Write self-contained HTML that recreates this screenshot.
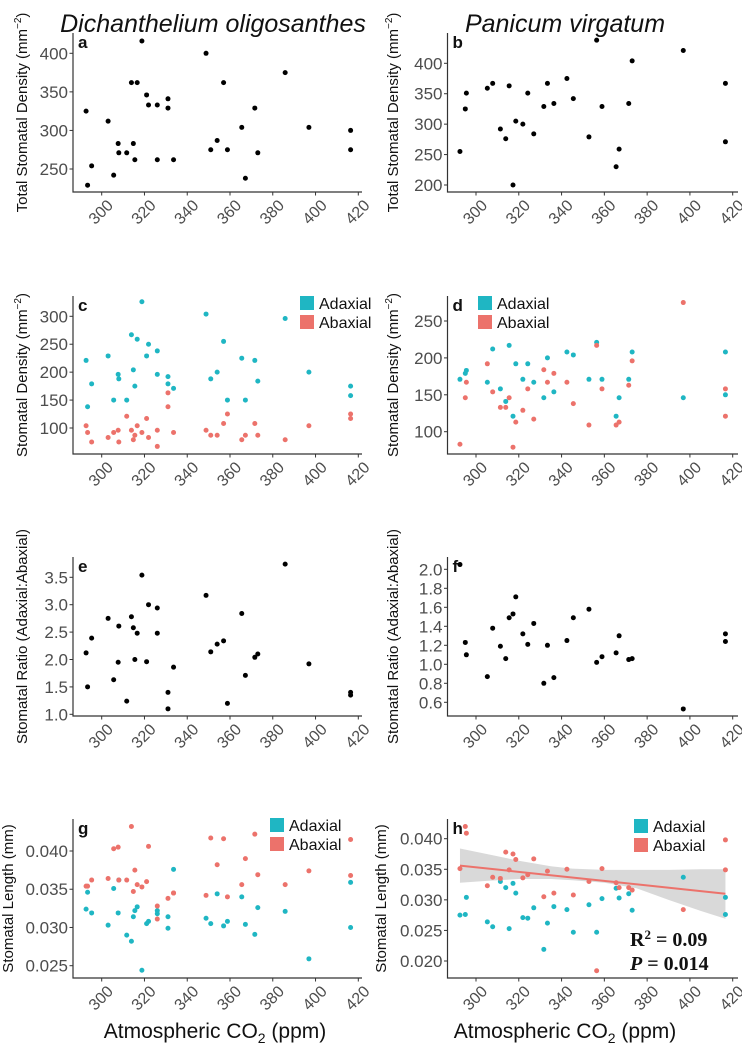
<!DOCTYPE html>
<html><head><meta charset="utf-8"><style>
html,body{margin:0;padding:0;background:#fff;}
svg{display:block;font-family:"Liberation Sans",sans-serif;}
</style></head><body>
<svg id="fig" width="742" height="1046" viewBox="0 0 742 1046" xmlns="http://www.w3.org/2000/svg">
<text x="213" y="32" font-size="25" font-style="italic" text-anchor="middle" fill="#111">Dichanthelium oligosanthes</text>
<text x="565" y="32" font-size="25" font-style="italic" text-anchor="middle" fill="#111">Panicum virgatum</text>
<text x="215" y="1038" font-size="21" text-anchor="middle" fill="#111">Atmospheric CO<tspan font-size="14" dy="5">2</tspan><tspan dy="-5"> (ppm)</tspan></text>
<text x="565" y="1038" font-size="21" text-anchor="middle" fill="#111">Atmospheric CO<tspan font-size="14" dy="5">2</tspan><tspan dy="-5"> (ppm)</tspan></text>
</svg>
<script>
// ---- data ----
const xTicks = [300,320,340,360,380,400,420];
const aX = [292.7,293.4,295.3,303,305.6,307.7,308,311.7,313.9,314.8,315.5,316.6,318.8,321,321.9,326,326,331,331,333.6,348.8,351,354,357,358.8,365.5,367.2,371.6,373,385.8,396.9,416.4,416.4];
const aY = [325,229,254,312,242,283,271,271,362,283,262,362,416,346,333,333,262,341,329,262,400,275,287,362,275,304,238,329,271,375,304,300,275];
const bX = [292.5,295,295.5,305.3,307.8,311.4,313.9,315.5,317.3,318.6,321.9,324.2,327,331.7,333.4,336.4,342.5,345.5,352.8,356.4,358.9,365.5,366.9,371.4,373,396.9,416.6,416.6];
const bY = [255,325,351,359,367,292,276,363,200,305,300,351,284,329,367,334,375,342,279,438,329,230,259,334,404,421,367,271];
const cX = aX;
const cAd = [221,138,179,229,150,196,188,150,267,204,175,259,326,229,250,238,196,192,179,171,304,188,200,255,150,225,150,221,184,296,200,175,158];
const cAb = [104,92,75,83,92,96,75,121,96,79,87,104,92,117,83,96,67,163,138,92,96,87,87,108,125,79,87,108,87,79,104,125,117];
const dX = bX;
const dAd = [171,179,183,167,212,158,141,217,121,192,171,192,167,146,200,154,208,204,171,221,171,121,146,171,208,146,208,150];
const dAb = [83,146,167,192,154,133,133,146,79,113,129,158,117,184,167,179,167,138,109,217,158,109,113,163,196,275,158,121];
const eX = aX;
const eY = [2.12,1.50,2.39,2.75,1.63,1.95,2.61,1.24,2.78,2.58,2.00,2.48,3.54,1.96,3.00,2.94,2.48,1.40,1.10,1.86,3.17,2.14,2.28,2.34,1.20,2.84,1.71,2.04,2.10,3.74,1.92,1.40,1.35];
const fX = bX;
const fY = [2.05,1.23,1.10,0.87,1.38,1.19,1.06,1.49,1.53,1.71,1.32,1.21,1.43,0.80,1.20,0.86,1.25,1.49,1.58,1.02,1.08,1.12,1.30,1.05,1.06,0.53,1.32,1.24];
const gX = aX;
const gAd = [0.0324,0.0346,0.0319,0.0303,0.0351,0.0319,0.0362,0.0290,0.0282,0.0314,0.0322,0.0327,0.0244,0.0305,0.0308,0.0322,0.0318,0.0314,0.0299,0.0376,0.0312,0.0305,0.0344,0.0302,0.0308,0.0340,0.0304,0.0291,0.0326,0.0321,0.0259,0.0359,0.0300];
const gAb = [0.0354,0.0354,0.0362,0.0364,0.0403,0.0405,0.0362,0.0362,0.0432,0.0347,0.0375,0.0356,0.0353,0.0360,0.0406,0.0328,0.0311,0.0338,0.0345,0.0345,0.0342,0.0417,0.0382,0.0416,0.0340,0.0356,0.0390,0.0422,0.0369,0.0356,0.0374,0.0415,0.0368];
const gAbX = [292.7,293.4,295.3,303,305.6,307.7,308,311.7,313.9,314.8,315.5,316.6,318.8,321,321.9,326,326,331,333.6,333.6,348.8,351,354,357,358.8,365.5,367.2,371.6,373,385.8,396.9,416.4,416.4];
const hX = bX;
const hAd = [0.0275,0.0276,0.0304,0.0264,0.0256,0.0330,0.0320,0.0253,0.0327,0.0311,0.0271,0.0270,0.0287,0.0219,0.0262,0.0289,0.0284,0.0247,0.0292,0.0247,0.0302,0.0319,0.0303,0.0310,0.0283,0.0337,0.0304,0.0276];
const hAb = [0.0351,0.0420,0.0409,0.0323,0.0337,0.0335,0.0378,0.0349,0.0375,0.0366,0.0336,0.0341,0.0367,0.0305,0.0347,0.0311,0.0350,0.0308,0.0330,0.0184,0.0351,0.0328,0.0320,0.0320,0.0316,0.0284,0.0398,0.0349];
const fitX = [292.5,416.6];
const fitY = [0.0356,0.0310];
const bandX = [292.5,305,320,335,345,360,375,390,405,416.6];
const bandLo = [0.0328,0.0331,0.0334,0.0334,0.0332,0.0328,0.0319,0.0300,0.0282,0.0269];
const bandHi = [0.0384,0.0375,0.0364,0.0355,0.0351,0.0349,0.0349,0.0349,0.0350,0.0350];
const aTicks=[250,300,350,400], bTicks=[200,250,300,350,400], cTicks=[100,150,200,250,300], dTicks=[100,150,200,250];
const eTicks=[1.0,1.5,2.0,2.5,3.0,3.5], fTicks=[0.6,0.8,1.0,1.2,1.4,1.6,1.8,2.0];
const gTicks=[0.025,0.030,0.035,0.040], hTicks=[0.020,0.025,0.030,0.035,0.040];

const NS="http://www.w3.org/2000/svg";
const svg=document.getElementById('fig');
const TEAL="#1fb6c3", RED="#ec726b";
function mk(tag,attrs,parent){const e=document.createElementNS(NS,tag);for(const k in attrs)e.setAttribute(k,attrs[k]);(parent||svg).appendChild(e);return e;}
function lin(d0,d1,r0,r1){return v=>r0+(v-d0)/(d1-d0)*(r1-r0);}

function panel(o){
  const g=mk('g',{});
  
  
  const xs=lin(300,420,o.x300,o.x420), ys=lin(o.yv0,o.yv1,o.yp0,o.yp1);
  const ax=mk('path',{d:`M${o.left},${o.top}V${o.bottom}H${o.right}`,fill:'none',stroke:'#333','stroke-width':1.2},g);
  
  
  xTicks.forEach(t=>{
    const x=xs(t);
    mk('line',{x1:x,x2:x,y1:o.bottom,y2:o.bottom+3.5,stroke:'#333','stroke-width':1},g);
    const tx=mk('text',{x:x+5,y:o.bottom+7,'font-size':16,fill:'#4d4d4d','text-anchor':'end',transform:`rotate(-45 ${x+5} ${o.bottom+7})`,'dominant-baseline':'hanging'},g);
    tx.textContent=t;
    
    
  });
  o.yTicks.forEach(t=>{
    const y=ys(t);
    mk('line',{x1:o.left-3.5,x2:o.left,y1:y,y2:y,stroke:'#333','stroke-width':1},g);
    const tx=mk('text',{x:o.left-5,y:y+6,'font-size':17,fill:'#4d4d4d','text-anchor':'end'},g);
    tx.textContent=o.fmt?o.fmt(t):t;
    
    
  });
  const yt=mk('text',{x:0,y:0,'font-size':o.ytSize||15,fill:'#111','text-anchor':'middle',transform:`translate(${o.ytX},${(o.top+o.bottom)/2}) rotate(-90)`},g);
  yt.innerHTML=o.ytitle;
  
  
  const lb=mk('text',{x:o.left+5,y:o.top+15,'font-size':17,'font-weight':'bold',fill:'#111'},g);
  lb.textContent=o.id;
  
  
  if(o.band){
    let d='';
    bandX.forEach((v,i)=>{d+=(i?'L':'M')+xs(v)+','+ys(bandHi[i]);});
    for(let i=bandX.length-1;i>=0;i--)d+='L'+xs(bandX[i])+','+ys(bandLo[i]);
    const b=mk('path',{d:d+'Z',fill:'#d9d9d9',stroke:'none'},g);
    
    
  }
  o.series.forEach(s=>{
    s.y.forEach((v,i)=>{
      const c=mk('circle',{cx:xs(s.x[i]),cy:ys(v),r:2.5,fill:s.color},g);
      
      
    });
  });
  if(o.band){
    const l=mk('line',{x1:xs(fitX[0]),y1:ys(fitY[0]),x2:xs(fitX[1]),y2:ys(fitY[1]),stroke:RED,'stroke-width':2},g);
    
    
  }
  if(o.legend){
    [['Adaxial',TEAL],['Abaxial',RED]].forEach((e,i)=>{
      const lg=mk('g',{},g);
      
      
      mk('rect',{x:o.legend[0],y:o.legend[1]+i*19,width:14,height:14,fill:e[1]},lg);
      const t=mk('text',{x:o.legend[0]+19,y:o.legend[1]+i*19+13,'font-size':16,fill:'#111'},lg);
      t.textContent=e[0];
    });
  }
}
const DEN='Total Stomatal Density (mm<tspan dy="-6" font-size="10">−2</tspan><tspan dy="6">)</tspan>';
const SD='Stomatal Density (mm<tspan dy="-6" font-size="10">−2</tspan><tspan dy="6">)</tspan>';
const f3=v=>v.toFixed(3), f1=v=>v.toFixed(1);
const L={left:73,right:362,x300:101.7,x420:358.3,ytX:27};
const R={left:447.5,right:738,x300:476,x420:732.7,ytX:398};
panel({id:'a',...L,top:33,bottom:192,yv0:400,yv1:250,yp0:53.3,yp1:169,yTicks:aTicks,ytitle:DEN,series:[{x:aX,y:aY,color:'#000',name:'total-density'}]});
panel({id:'b',...R,top:33,bottom:192,yv0:400,yv1:200,yp0:63.3,yp1:185,yTicks:bTicks,ytitle:DEN,series:[{x:bX,y:bY,color:'#000',name:'total-density'}]});
panel({id:'c',...L,top:296,bottom:454,yv0:300,yv1:100,yp0:316.3,yp1:428,yTicks:cTicks,ytitle:SD,legend:[300,296],series:[{x:cX,y:cAd,color:TEAL,name:'adaxial'},{x:cX,y:cAb,color:RED,name:'abaxial'}]});
panel({id:'d',...R,top:296,bottom:454,yv0:250,yv1:100,yp0:321,yp1:431.7,yTicks:dTicks,ytitle:SD,legend:[478,296],series:[{x:dX,y:dAd,color:TEAL,name:'adaxial'},{x:dX,y:dAb,color:RED,name:'abaxial'}]});
panel({id:'e',...L,top:557,bottom:716,yv0:3.5,yv1:1.0,yp0:577.3,yp1:714.3,yTicks:eTicks,fmt:f1,ytitle:'Stomatal Ratio (Adaxial:Abaxial)',series:[{x:eX,y:eY,color:'#000',name:'ratio'}]});
panel({id:'f',...R,top:557,bottom:716,yv0:2.0,yv1:0.6,yp0:569.3,yp1:702.3,yTicks:fTicks,fmt:f1,ytitle:'Stomatal Ratio (Adaxial:Abaxial)',series:[{x:fX,y:fY,color:'#000',name:'ratio'}]});
panel({id:'g',...L,top:819,bottom:978,yv0:0.040,yv1:0.025,yp0:851,yp1:965.7,yTicks:gTicks,fmt:f3,ytitle:'Stomatal Length (mm)',ytX:13,legend:[270,818],series:[{x:gX,y:gAd,color:TEAL,name:'adaxial'},{x:gAbX,y:gAb,color:RED,name:'abaxial'}]});
panel({id:'h',...R,top:819,bottom:978,yv0:0.040,yv1:0.020,yp0:838.7,yp1:961,yTicks:hTicks,fmt:f3,ytitle:'Stomatal Length (mm)',ytX:386,legend:[634,819],band:true,series:[{x:hX,y:hAd,color:TEAL,name:'adaxial'},{x:hX,y:hAb,color:RED,name:'abaxial'}]});
const r2=mk('text',{x:630,y:946,'font-size':20,'font-weight':'bold','font-family':'Liberation Serif, serif',fill:'#111'});
r2.innerHTML='R<tspan dy="-7" font-size="13">2</tspan><tspan dy="7"> = 0.09</tspan>';


const pv=mk('text',{x:630,y:970,'font-size':20,'font-weight':'bold','font-family':'Liberation Serif, serif',fill:'#111'});
pv.innerHTML='<tspan font-style="italic">P</tspan> = 0.014';


</script>
</body></html>
